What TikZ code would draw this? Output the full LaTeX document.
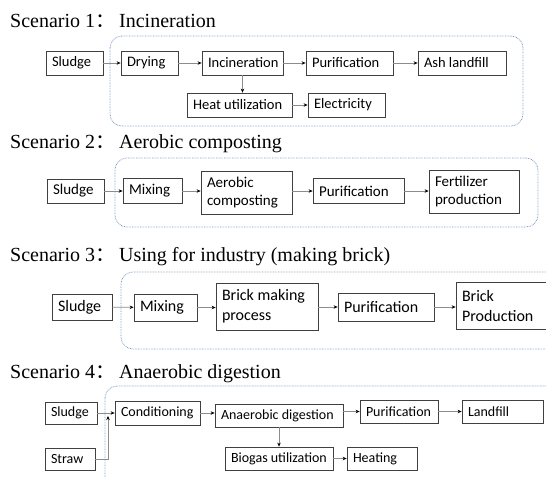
\documentclass[tikz,border=0pt]{standalone}
\usepackage{fontspec}
\setmainfont{Liberation Serif}
\newfontfamily\calfont{Carlito}
\newfontfamily\cjkfont{Noto Sans CJK SC}
\usetikzlibrary{arrows.meta}
\definecolor{grpc}{RGB}{120,152,196}
\newcommand{\fwcolon}{{\cjkfont ：}\hspace{4pt}}
\tikzset{
  bx/.style={draw=black!75, line width=0.75pt, fill=white, inner xsep=6pt, inner ysep=1pt, align=flush left},
  fa/.style={font=\calfont\fontsize{14.5}{17}\selectfont},
  fb/.style={font=\calfont\fontsize{15}{18}\selectfont},
  fc/.style={font=\calfont\fontsize{16}{20}\selectfont},
  fd/.style={font=\calfont\fontsize{14}{17}\selectfont},
  arr/.style={draw=black!45, line width=0.7pt, -{Stealth[length=4pt,width=3.5pt,black]}},
  grp/.style={draw=grpc, line width=0.8pt, dash pattern=on 0.7pt off 0.9pt, rounded corners=12pt},
  ttl/.style={anchor=base west, inner sep=0pt, font=\fontsize{20}{23}\selectfont}
}
\begin{document}
\begin{tikzpicture}[x=1pt,y=-1pt]
\clip (0,0) rectangle (546,477);
\fill[white] (0,0) rectangle (546,477);

% ---------- Scenario 1 ----------
\node[ttl] (t1) at (10,27) {Scenario 1\fwcolon Incineration};
\draw[grp] (110,36) rectangle (523,126);
\node[bx,fa,text width=45pt,minimum height=24pt] (s1a) at (74.5,63) {Sludge};
\node[bx,fa,text width=45pt,minimum height=24pt] (s1b) at (149.5,63) {Drying};
\node[bx,fa,text width=69pt,minimum height=24pt] (s1c) at (242.5,63) {Incineration};
\node[bx,fa,text width=75pt,minimum height=24pt] (s1d) at (349.5,63) {Purification};
\node[bx,fa,text width=76pt,minimum height=24pt] (s1e) at (462,63) {Ash landfill};
\node[bx,fa,text width=93pt,minimum height=24pt] (s1f) at (239.5,105) {Heat utilization};
\node[bx,fa,text width=65pt,minimum height=24pt] (s1g) at (346.5,105) {Electricity};
\draw[arr] (s1a) -- (s1b);
\draw[arr] (s1b) -- (s1c);
\draw[arr] (s1c) -- (s1d);
\draw[arr] (s1d) -- (s1e);
\draw[arr] (s1c.south) -- (s1c.south |- s1f.north);
\draw[arr] (s1f) -- (s1g);

% ---------- Scenario 2 ----------
\node[ttl] (t2) at (10,148) {Scenario 2\fwcolon Aerobic composting};
\draw[grp] (115,158) rectangle (538,227);
\node[bx,fb,text width=45pt,minimum height=24pt] (s2a) at (75.5,191) {Sludge};
\node[bx,fb,text width=47pt,minimum height=25pt] (s2b) at (152.5,191) {Mixing};
\node[bx,fb,text width=79pt,minimum height=43pt] (s2c) at (246.5,192.5) {Aerobic\\composting};
\node[bx,fb,text width=79pt,minimum height=25pt] (s2d) at (358.5,191) {Purification};
\node[bx,fb,text width=78pt,minimum height=43pt] (s2e) at (474,191.5) {Fertilizer\\production};
\draw[arr] (s2a) -- (s2b);
\draw[arr] (s2b) -- (s2c.west |- s2b.east);
\draw[arr] (s2c.east |- s2d.west) -- (s2d);
\draw[arr] (s2d) -- (s2e.west |- s2d.east);

% ---------- Scenario 3 ----------
\node[ttl] (t3) at (10,261) {Scenario 3\fwcolon Using for industry (making brick)};
\draw[grp] (121,272) rectangle (600,349);
\node[bx,fc,text width=48pt,minimum height=26pt] (s3a) at (82,307) {Sludge};
\node[bx,fc,text width=51pt,minimum height=27pt] (s3b) at (165.5,307.5) {Mixing};
\node[bx,fc,text width=90pt,minimum height=47pt] (s3c) at (267,306.5) {Brick making\\process};
\node[bx,fc,text width=84pt,minimum height=28pt] (s3d) at (386,307) {Purification};
\node[bx,fc,text width=84pt,minimum height=47pt] (s3e) at (504,305.5) {Brick\\Production};
\draw[arr] (s3a) -- (s3b);
\draw[arr] (s3b) -- (s3c.west |- s3b.east);
\draw[arr] (s3c.east |- s3d.west) -- (s3d);
\draw[arr] (s3d) -- (s3e.west |- s3d.east);

% ---------- Scenario 4 ----------
\node[ttl] (t4) at (10,378) {Scenario 4\fwcolon Anaerobic digestion};
\draw[grp] (105,386) rectangle (600,530);
\node[bx,fd,text width=40pt,minimum height=22pt] (s4a) at (71,413) {Sludge};
\node[bx,fd,text width=38pt,minimum height=22pt] (s4b) at (70,459) {Straw};
\node[bx,fd,text width=73pt,minimum height=24pt] (s4c) at (157.5,413) {Conditioning};
\node[bx,fd,text width=116pt,minimum height=23pt] (s4d) at (279,415.5) {Anaerobic digestion};
\node[bx,fd,text width=66pt,minimum height=23pt] (s4e) at (399,411.5) {Purification};
\node[bx,fd,text width=69pt,minimum height=23pt] (s4f) at (502.5,411.5) {Landfill};
\node[bx,fd,text width=96pt,minimum height=23pt] (s4g) at (279,458.5) {Biogas utilization};
\node[bx,fd,text width=58pt,minimum height=23pt] (s4h) at (382,458.5) {Heating};
\coordinate (s4j) at (108,416);
\draw[arr] (s4a) -- (s4c);
\draw[arr] (s4b.east) -| (s4j);
\draw[arr] (s4c.east) -- (s4d.west |- s4c.east);
\draw[arr] (s4d.east |- s4e.west) -- (s4e.west);
\draw[arr] (s4e) -- (s4f);
\draw[arr] (s4d.south) -- (s4g.north);
\draw[arr] (s4g) -- (s4h);
\end{tikzpicture}
\end{document}
